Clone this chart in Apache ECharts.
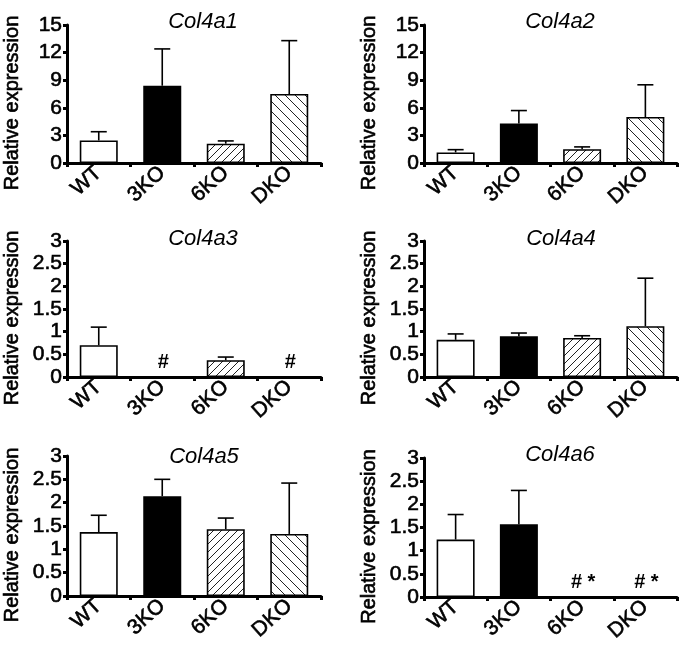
<!DOCTYPE html>
<html><head><meta charset="utf-8">
<script src="https://cdn.jsdelivr.net/npm/echarts@6/dist/echarts.min.js"></script>
<style>html,body{margin:0;padding:0;background:#fff}#c{width:685px;height:647px}</style>
</head><body><div id="c"></div>
<script>
// ---- data ----
const categories = ['WT', '3KO', '6KO', 'DKO'];
const genes = ['Col4a1', 'Col4a2', 'Col4a3', 'Col4a4', 'Col4a5', 'Col4a6'];
const col4a1Mean  = [2.45, 8.4, 2.1, 7.5];
const col4a1Upper = [3.4, 12.4, 2.4, 13.3];
const col4a2Mean  = [1.15, 4.3, 1.5, 5.0];
const col4a2Upper = [1.45, 5.7, 1.75, 8.5];
const col4a3Mean  = [0.7, null, 0.37, null];
const col4a3Upper = [1.1, null, 0.44, null];
const col4a4Mean  = [0.82, 0.9, 0.86, 1.12];
const col4a4Upper = [0.95, 0.97, 0.91, 2.18];
const col4a5Mean  = [1.37, 2.14, 1.43, 1.33];
const col4a5Upper = [1.73, 2.5, 1.67, 2.42];
const col4a6Mean  = [1.24, 1.57, null, null];
const col4a6Upper = [1.78, 2.3, null, null];
const col4a3Marks = ['', '#', '', '#'];
const col4a6Marks = ['', '', '# *', '# *'];
const noMarks = ['', '', '', ''];
const yTicksTop = [0, 3, 6, 9, 12, 15];
const yTicksLow = [0, 0.5, 1, 1.5, 2, 2.5, 3];
const axisName = 'Relative expression';

// ---- layout ----
const panels = [
  {gene: genes[0], mean: col4a1Mean, upper: col4a1Upper, marks: noMarks, ticks: yTicksTop, left: 67, right: 321, top: 25, bottom: 163, titleX: 198, titleY: 6},
  {gene: genes[1], mean: col4a2Mean, upper: col4a2Upper, marks: noMarks, ticks: yTicksTop, left: 424, right: 677, top: 25, bottom: 163, titleX: 555, titleY: 6},
  {gene: genes[2], mean: col4a3Mean, upper: col4a3Upper, marks: col4a3Marks, ticks: yTicksLow, left: 67, right: 321, top: 241, bottom: 377, titleX: 198, titleY: 223},
  {gene: genes[3], mean: col4a4Mean, upper: col4a4Upper, marks: noMarks, ticks: yTicksLow, left: 424, right: 677, top: 241, bottom: 377, titleX: 556, titleY: 223},
  {gene: genes[4], mean: col4a5Mean, upper: col4a5Upper, marks: noMarks, ticks: yTicksLow, left: 67, right: 321, top: 456, bottom: 596, titleX: 199, titleY: 441},
  {gene: genes[5], mean: col4a6Mean, upper: col4a6Upper, marks: col4a6Marks, ticks: yTicksLow, left: 424, right: 677, top: 458, bottom: 597, titleX: 555, titleY: 439}
];

function hatch(size, forward) {
  const c = document.createElement('canvas');
  c.width = size; c.height = size;
  const g = c.getContext('2d');
  g.fillStyle = '#fff'; g.fillRect(0, 0, size, size);
  g.strokeStyle = '#222'; g.lineWidth = 1;
  g.beginPath();
  for (let k = -1; k <= 1; k++) {
    if (forward) { g.moveTo(k * size, size); g.lineTo(k * size + size, 0); }
    else { g.moveTo(k * size, 0); g.lineTo(k * size + size, size); }
  }
  g.stroke();
  return c;
}
const fwd = hatch(8, true), back = hatch(10, false);
const barStyles = [
  {color: '#fff', borderColor: '#000', borderWidth: 1.6},
  {color: '#000', borderColor: '#000', borderWidth: 1.6},
  {color: {image: fwd, repeat: 'repeat'}, borderColor: '#000', borderWidth: 1.6},
  {color: {image: back, repeat: 'repeat'}, borderColor: '#000', borderWidth: 1.6}
];

const FONT = 'Liberation Sans, Arial, sans-serif';
const thick = {textBorderColor: '#000', textBorderWidth: 0.6};
const grid = [], xAxis = [], yAxis = [], series = [], title = [];
panels.forEach((p, i) => {
  grid.push({left: p.left, top: p.top, width: p.right - p.left, height: p.bottom - p.top});
  title.push({text: p.gene, left: p.titleX, top: p.titleY, textAlign: 'center',
    textStyle: {fontStyle: 'italic', fontWeight: 'normal', fontSize: 22, fontFamily: FONT, color: '#000'}});
  xAxis.push({type: 'category', gridIndex: i, data: categories, boundaryGap: true,
    axisLine: {lineStyle: {color: '#000', width: 3}},
    axisTick: {show: true, length: 4, lineStyle: {color: '#000', width: 3}},
    axisLabel: Object.assign({rotate: 42, margin: 7, color: '#000', fontSize: 21, fontFamily: FONT}, thick),
    splitLine: {show: false}});
  const t = p.ticks;
  yAxis.push({type: 'value', gridIndex: i, min: t[0], max: t[t.length - 1], interval: t[1] - t[0],
    name: axisName, nameLocation: 'middle', nameGap: 45,
    nameTextStyle: Object.assign({fontSize: 20, fontFamily: FONT, color: '#000', padding: [0, 18, 0, 0]}, thick),
    axisLine: {show: true, lineStyle: {color: '#000', width: 3}},
    axisTick: {show: true, length: 4, lineStyle: {color: '#000', width: 3}},
    axisLabel: Object.assign({margin: 5, color: '#000', fontSize: 21, fontFamily: FONT}, thick),
    splitLine: {show: false}});
  series.push({type: 'bar', xAxisIndex: i, yAxisIndex: i, barWidth: 38,
    data: p.mean.map((v, k) => ({value: v, itemStyle: barStyles[k]})), z: 2});
  series.push({type: 'custom', xAxisIndex: i, yAxisIndex: i, z: 3,
    data: p.mean.map((v, k) => [k, v, p.upper[k]]),
    renderItem: function (params, api) {
      const m = api.value(1), u = api.value(2);
      if (u == null || isNaN(u) || m == null || isNaN(m)) return;
      const a = api.coord([api.value(0), m]), b = api.coord([api.value(0), u]);
      const st = {stroke: '#000', lineWidth: 1.6};
      return {type: 'group', children: [
        {type: 'line', shape: {x1: a[0], y1: a[1], x2: b[0], y2: b[1]}, style: st},
        {type: 'line', shape: {x1: b[0] - 8, y1: b[1], x2: b[0] + 8, y2: b[1]}, style: st}
      ]};
    }});
  series.push({type: 'custom', xAxisIndex: i, yAxisIndex: i, z: 4,
    data: p.marks.map((s, k) => [k, 0, s]),
    renderItem: function (params, api) {
      const s = p.marks[params.dataIndex];
      if (!s) return;
      const a = api.coord([api.value(0), 0]);
      return {type: 'text', x: a[0] + 1, y: a[1] - 5,
        style: {text: s, textAlign: 'center', textVerticalAlign: 'bottom', fontSize: 20, fontWeight: 'bold', fontFamily: FONT, fill: '#000'}};
    }});
});

const chart = echarts.init(document.getElementById('c'), null, {renderer: 'canvas'});
chart.setOption({animation: false, backgroundColor: '#fff', title, grid, xAxis, yAxis, series});
</script>
</body></html>
